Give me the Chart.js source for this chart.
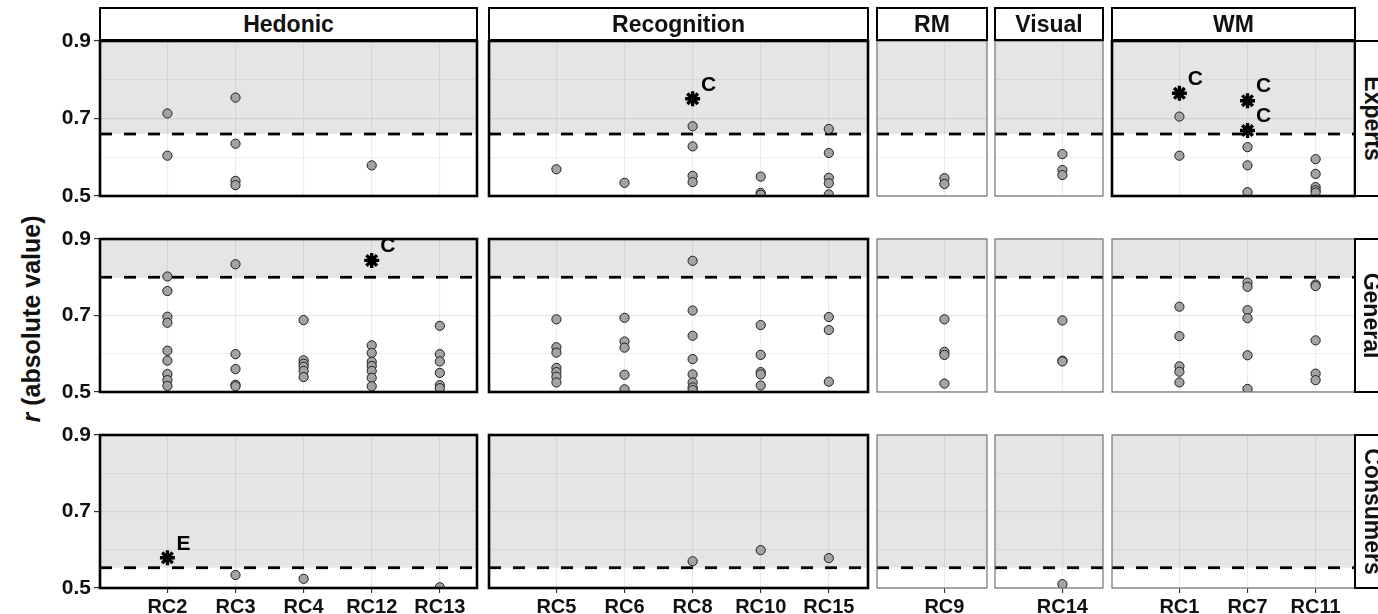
<!DOCTYPE html>
<html>
<head>
<meta charset="utf-8">
<script src="https://cdn.jsdelivr.net/npm/chart.js@4/dist/chart.umd.min.js"></script>
<style>
  html, body { margin: 0; padding: 0; background: #fff; }
  body { width: 1378px; height: 614px; overflow: hidden; position: relative;
         font-family: "Liberation Sans", Arial, sans-serif; }
  canvas { position: absolute; }
  .strip { position: absolute; box-sizing: border-box; border: 2.5px solid #000; background: #fff;
           font-weight: bold; font-size: 23px; color: #111;
           display: flex; align-items: center; justify-content: center; white-space: nowrap; }
  .strip.side span { display: inline-block; transform: rotate(90deg); }
  #ytitle { position: absolute; left: 31px; top: 319px; transform: translate(-50%, -50%) rotate(-90deg);
            font-weight: bold; font-size: 25px; color: #111; white-space: nowrap; }
</style>
</head>
<body>
<div id="ytitle"><i>r</i> (absolute value)</div>
<script>
// ---- categories ----
const rowNames = ['Experts', 'General', 'Consumers'];
const groupNames = ['Hedonic', 'Recognition', 'RM', 'Visual', 'WM'];
const hedonicRCs = ['RC2', 'RC3', 'RC4', 'RC12', 'RC13'];
const recognitionRCs = ['RC5', 'RC6', 'RC8', 'RC10', 'RC15'];
const rmRCs = ['RC9'];
const visualRCs = ['RC14'];
const wmRCs = ['RC1', 'RC7', 'RC11'];
const yTickValues = [0.5, 0.6, 0.7, 0.8, 0.9];
const yLabelled = [0.5, 0.7, 0.9];

// significance thresholds per panel row
const thresholds = [0.66, 0.80, 0.553];

// |r| values, one list per component (same order as the RC arrays)
const expertsHedonic = [[0.713, 0.604], [0.754, 0.635, 0.539, 0.528], [], [0.579], []];
const expertsRecognition = [[0.569], [0.534], [0.680, 0.628, 0.552, 0.536], [0.550, 0.508, 0.503], [0.673, 0.611, 0.547, 0.533, 0.504]];
const expertsRM = [[0.546, 0.531]];
const expertsVisual = [[0.608, 0.567, 0.554]];
const expertsWM = [[0.705, 0.604], [0.626, 0.579, 0.510], [0.595, 0.557, 0.523, 0.515, 0.509]];

const generalHedonic = [[0.802, 0.764, 0.697, 0.681, 0.608, 0.582, 0.547, 0.531, 0.516],
                        [0.834, 0.599, 0.560, 0.519, 0.515],
                        [0.688, 0.583, 0.574, 0.566, 0.555, 0.539],
                        [0.622, 0.602, 0.579, 0.568, 0.555, 0.537, 0.515],
                        [0.673, 0.599, 0.580, 0.550, 0.518, 0.510]];
const generalRecognition = [[0.690, 0.617, 0.603, 0.563, 0.552, 0.540, 0.525],
                            [0.694, 0.632, 0.616, 0.545, 0.507],
                            [0.843, 0.713, 0.647, 0.586, 0.546, 0.525, 0.512, 0.505],
                            [0.675, 0.597, 0.552, 0.546, 0.517],
                            [0.696, 0.662, 0.527]];
const generalRM = [[0.690, 0.605, 0.597, 0.522]];
const generalVisual = [[0.687, 0.582, 0.580]];
const generalWM = [[0.723, 0.646, 0.567, 0.553, 0.525],
                   [0.786, 0.775, 0.714, 0.693, 0.596, 0.508],
                   [0.781, 0.777, 0.635, 0.548, 0.531]];

const consumersHedonic = [[], [0.534], [0.524], [], [0.502]];
const consumersRecognition = [[], [], [0.570], [0.599], [0.578]];
const consumersRM = [[]];
const consumersVisual = [[0.510]];
const consumersWM = [[], [], []];

// flagged correlations (asterisks) with their letter tags
const starRow = [0, 0, 0, 0, 1, 2];
const starGroup = [1, 4, 4, 4, 0, 0];
const starRC = ['RC8', 'RC1', 'RC7', 'RC7', 'RC12', 'RC2'];
const starValue = [0.751, 0.765, 0.746, 0.669, 0.844, 0.579];
const starLetter = ['C', 'C', 'C', 'C', 'C', 'E'];

const groupRCs = [hedonicRCs, recognitionRCs, rmRCs, visualRCs, wmRCs];
const panelValues = [
  [expertsHedonic, expertsRecognition, expertsRM, expertsVisual, expertsWM],
  [generalHedonic, generalRecognition, generalRM, generalVisual, generalWM],
  [consumersHedonic, consumersRecognition, consumersRM, consumersVisual, consumersWM]
];

// ---- layout of the facet grid ----
const colLeft = [100, 489, 877, 995, 1112];
const colWidth = [377, 379, 110, 108, 243];
const rowTop = [41, 239, 435];
const rowHeight = [155, 153, 153];
const unitPx = 68.1;          // pixels per category step
const leftGapUnits = 0.99;    // space before the first category
const thickBorder = [
  [true, true, false, false, true],
  [true, true, false, false, false],
  [true, true, false, false, false]
];
const PADX = 4;
const PADY = 14;
const Y_AXIS_W = 100;
const X_AXIS_H = 34;

const FONT = '"Liberation Sans", Arial, sans-serif';
const isLabelled = v => yLabelled.some(t => Math.abs(t - v) < 1e-9);

// shaded region above the threshold + dashed threshold line
const thresholdPlugin = {
  id: 'threshold',
  beforeDatasetsDraw(chart, args, opts) {
    const { ctx, chartArea: a, scales: { y } } = chart;
    const yt = y.getPixelForValue(opts.value);
    const ytop = y.getPixelForValue(y.max);
    ctx.save();
    ctx.fillStyle = 'rgba(127,127,127,0.2)';
    ctx.fillRect(a.left, ytop, a.right - a.left, yt - ytop);
    ctx.beginPath();
    ctx.setLineDash([12, 12]);
    ctx.lineWidth = 2.8;
    ctx.strokeStyle = '#000';
    ctx.moveTo(a.left, yt);
    ctx.lineTo(a.right, yt);
    ctx.stroke();
    ctx.restore();
  }
};

// letter tags next to flagged points
const tagPlugin = {
  id: 'tags',
  afterDatasetsDraw(chart) {
    const { ctx } = chart;
    chart.data.datasets.forEach((ds, di) => {
      if (!ds.tags) return;
      const meta = chart.getDatasetMeta(di);
      meta.data.forEach((pt, i) => {
        ctx.save();
        ctx.font = 'bold 21px ' + FONT;
        ctx.fillStyle = '#000';
        ctx.textAlign = 'center';
        ctx.textBaseline = 'middle';
        ctx.fillText(ds.tags[i], pt.x + 16, pt.y - 14);
        ctx.restore();
      });
    });
  }
};

// panel frame
const framePlugin = {
  id: 'frame',
  afterDraw(chart, args, opts) {
    const { ctx, chartArea: a } = chart;
    ctx.save();
    ctx.lineWidth = opts.thick ? 2.6 : 1.1;
    ctx.strokeStyle = opts.thick ? '#000' : '#666';
    ctx.strokeRect(a.left, a.top, a.right - a.left, a.bottom - a.top);
    ctx.restore();
  }
};

function makePanel(r, c) {
  const cats = groupRCs[c];
  const isLeft = c === 0;
  const isBottom = r === rowNames.length - 1;
  const axisW = isLeft ? Y_AXIS_W : 0;
  const axisH = isBottom ? X_AXIS_H : 0;
  const W = colWidth[c] + axisW + 2 * PADX;
  const H = rowHeight[r] + axisH + 2 * PADY;

  const cv = document.createElement('canvas');
  cv.width = W; cv.height = H;
  cv.style.width = W + 'px'; cv.style.height = H + 'px';
  cv.style.left = (colLeft[c] - axisW - PADX) + 'px';
  cv.style.top = (rowTop[r] - PADY) + 'px';
  document.body.appendChild(cv);

  const pts = [];
  panelValues[r][c].forEach((vals, i) => vals.forEach(v => pts.push({ x: i, y: v })));
  const stars = [];
  const tags = [];
  starRow.forEach((sr, k) => {
    if (sr === r && starGroup[k] === c) {
      stars.push({ x: cats.indexOf(starRC[k]), y: starValue[k] });
      tags.push(starLetter[k]);
    }
  });

  const xMin = -leftGapUnits;
  const xMax = xMin + colWidth[c] / unitPx;

  new Chart(cv, {
    type: 'scatter',
    data: {
      datasets: [
        {
          data: pts,
          pointStyle: 'circle',
          pointRadius: 4.6,
          pointBackgroundColor: '#a3a3a3',
          pointBorderColor: '#1e1e1e',
          pointBorderWidth: 1,
          clip: 0
        },
        {
          data: stars,
          tags: tags,
          pointStyle: 'star',
          pointRadius: 7.5,
          pointBorderColor: '#000',
          pointBackgroundColor: '#000',
          pointBorderWidth: 3.4,
          clip: 0
        }
      ]
    },
    options: {
      responsive: false,
      animation: false,
      devicePixelRatio: 1,
      events: [],
      layout: { padding: { left: PADX, right: PADX, top: PADY, bottom: PADY }, autoPadding: false },
      plugins: {
        legend: { display: false },
        tooltip: { enabled: false },
        threshold: { value: thresholds[r] },
        frame: { thick: thickBorder[r][c] }
      },
      scales: {
        x: {
          type: 'linear',
          position: 'bottom',
          min: xMin,
          max: xMax,
          afterBuildTicks: s => { s.ticks = cats.map((_, i) => ({ value: i })); },
          afterFit: s => { s.height = axisH; s.paddingLeft = 0; s.paddingRight = 0; s.paddingTop = 0; s.paddingBottom = 0; },
          border: { display: false },
          grid: {
            color: '#ebebeb',
            lineWidth: 1.1,
            drawTicks: isBottom,
            tickLength: 5,
            tickColor: '#333'
          },
          ticks: {
            display: isBottom,
            autoSkip: false,
            maxRotation: 0,
            padding: 2,
            color: '#111',
            font: { family: FONT, size: 20, weight: 'bold' },
            callback: v => cats[v]
          }
        },
        y: {
          type: 'linear',
          position: 'left',
          min: 0.5,
          max: 0.9,
          afterBuildTicks: s => { s.ticks = yTickValues.map(v => ({ value: v })); },
          afterFit: s => { s.width = axisW; s.paddingTop = 0; s.paddingBottom = 0; s.paddingLeft = 0; s.paddingRight = 0; },
          border: { display: false },
          grid: {
            color: ctx => isLabelled(ctx.tick.value) ? '#e9e9e9' : '#efefef',
            lineWidth: ctx => isLabelled(ctx.tick.value) ? 1.2 : 1,
            drawTicks: isLeft,
            tickLength: 6,
            tickColor: ctx => isLabelled(ctx.tick.value) ? '#333' : 'rgba(0,0,0,0)'
          },
          ticks: {
            display: isLeft,
            padding: 3,
            color: '#111',
            font: { family: FONT, size: 21, weight: 'bold' },
            callback: v => isLabelled(v) ? v.toFixed(1) : ''
          }
        }
      }
    },
    plugins: [thresholdPlugin, tagPlugin, framePlugin]
  });
}

for (let r = 0; r < rowNames.length; r++) {
  for (let c = 0; c < groupNames.length; c++) makePanel(r, c);
}

// facet strips: groups on top, respondent panels on the right
groupNames.forEach((g, c) => {
  const d = document.createElement('div');
  d.className = 'strip';
  d.style.left = (colLeft[c] - 1) + 'px';
  d.style.width = (colWidth[c] + 2) + 'px';
  d.style.top = '7px';
  d.style.height = '34px';
  d.textContent = g;
  document.body.appendChild(d);
});
rowNames.forEach((n, r) => {
  const d = document.createElement('div');
  d.className = 'strip side';
  d.style.left = '1354px';
  d.style.width = '36px';
  d.style.top = (rowTop[r] - 1) + 'px';
  d.style.height = (rowHeight[r] + 2) + 'px';
  const s = document.createElement('span');
  s.textContent = n;
  d.appendChild(s);
  document.body.appendChild(d);
});
</script>
</body>
</html>
